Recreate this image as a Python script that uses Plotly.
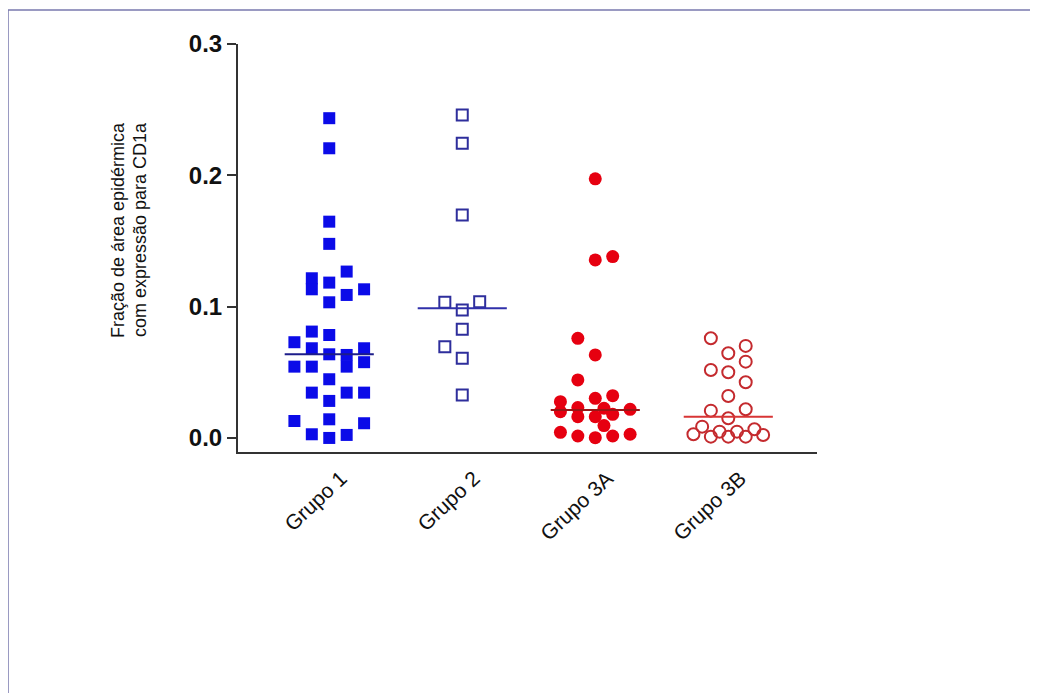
import plotly.graph_objects as go

# ---------------- data ----------------
groups = ["Grupo 1", "Grupo 2", "Grupo 3A", "Grupo 3B"]

g1_values = [0.2435, 0.2206, 0.1647, 0.1478,
             0.1216, 0.1132, 0.1183, 0.1267, 0.1089, 0.1132, 0.1033,
             0.0810, 0.0784, 0.0729, 0.0683, 0.0637, 0.0632, 0.0543, 0.0683, 0.0577,
             0.0543, 0.0543, 0.0447, 0.0345, 0.0282, 0.0345, 0.0345,
             0.0129, 0.0142, 0.0112, 0.0028, 0.0000, 0.0023]
g1_lanes = [0, 0, 0, 0,
            -1, -1, 0, 1, 1, 2, 0,
            -1, 0, -2, -1, 0, 1, 1, 2, 2,
            -2, -1, 0, -1, 0, 1, 2,
            -2, 0, 2, -1, 0, 1]

g2_values = [0.2460, 0.2244, 0.1698, 0.1033, 0.0975, 0.1038, 0.0828, 0.0695, 0.0607, 0.0327]
g2_lanes = [0, 0, 0, -1, 0, 1, 0, -1, 0, 0]

g3a_values = [0.1973, 0.1356, 0.1381, 0.0759, 0.0632, 0.0442, 0.0276, 0.0302, 0.0322,
              0.0200, 0.0231, 0.0162, 0.0162, 0.0226, 0.0180, 0.0218, 0.0094,
              0.0043, 0.0015, 0.0002, 0.0015, 0.0028]
g3a_lanes = [0, 0, 1, -1, 0, -1, -2, 0, 1,
             -2, -1, -1, 0, 0.5, 1, 2, 0.5,
             -2, -1, 0, 1, 2]

g3b_values = [0.0759, 0.0645, 0.0701, 0.0581, 0.0518, 0.0500, 0.0424, 0.0320,
              0.0208, 0.0218, 0.0150, 0.0086, 0.0028, 0.0010, 0.0048, 0.0010,
              0.0048, 0.0010, 0.0066, 0.0023]
g3b_lanes = [-1, 0, 1, 1, -1, 0, 1, 0,
             -1, 1, 0, -1.5, -2, -1, -0.5, 0,
             0.5, 1, 1.5, 2]

medians = [0.0637, 0.0988, 0.0213, 0.0162]

y_ticks = [0.0, 0.1, 0.2, 0.3]

# ---------------- figure ----------------
LANE = 0.131
HALF = 0.335

series = [
    (g1_values, g1_lanes, dict(symbol="square", size=12, color="#0b0be8",
                               line=dict(width=0))),
    (g2_values, g2_lanes, dict(symbol="square-open", size=11, color="#2e2e9c",
                               line=dict(width=2, color="#2e2e9c"))),
    (g3a_values, g3a_lanes, dict(symbol="circle", size=13, color="#e60010",
                                 line=dict(width=0))),
    (g3b_values, g3b_lanes, dict(symbol="circle-open", size=12, color="#c42a2e",
                                 line=dict(width=2, color="#c42a2e"))),
]
median_colors = ["#1d1d8a", "#3030aa", "#9a1515", "#d83535"]

fig = go.Figure()
for i, (vals, lanes, mk) in enumerate(series):
    fig.add_trace(go.Scatter(
        x=[i + l * LANE for l in lanes], y=vals, mode="markers",
        marker=mk, showlegend=False, hoverinfo="y"))
    fig.add_trace(go.Scatter(
        x=[i - HALF, i + HALF], y=[medians[i], medians[i]], mode="lines",
        line=dict(color=median_colors[i], width=2), showlegend=False,
        hoverinfo="skip"))

OFF = 8  # page body margin
L, R, T, B = 238 - OFF, 817 - OFF, 44 - OFF, 452 - OFF
W, H = 1030, 685

def px(xp):
    return (xp - OFF - L) / (R - L)

def py(yp):
    return (B - (yp - OFF)) / (B - T)

fig.update_layout(
    width=W, height=H,
    margin=dict(l=L, r=W - R, t=T, b=H - B, pad=0),
    paper_bgcolor="white", plot_bgcolor="white",
    font=dict(family="Liberation Sans, Arial, sans-serif", color="#111"),
    xaxis=dict(range=[-0.686, 3.667], tickvals=list(range(len(groups))),
               ticktext=groups, tickangle=-43, ticks="", showgrid=False,
               zeroline=False, showline=True, linecolor="#333", linewidth=2,
               ticklabelshift=12, ticklabelstandoff=4,
               tickfont=dict(size=21, color="#111")),
    yaxis=dict(range=[-0.0107, 0.3], tickvals=y_ticks, tickformat=".1f",
               ticks="outside", ticklen=9, tickwidth=2, tickcolor="#333",
               showgrid=False, zeroline=False, showline=True, linecolor="#333",
               linewidth=2, tickfont=dict(size=24, color="#111", weight="bold")),
    shapes=[dict(type="rect", xref="paper", yref="paper",
                 x0=px(8), x1=px(1031), y0=py(720), y1=py(10),
                 line=dict(color="#7a7aae", width=1.5), layer="below")],
    annotations=[
        dict(text="Fração de área epidérmica", textangle=-90, showarrow=False,
             xref="paper", yref="paper", x=px(118), y=py(230),
             xanchor="center", yanchor="middle", font=dict(size=18, color="#111")),
        dict(text="com expressão para CD1a", textangle=-90, showarrow=False,
             xref="paper", yref="paper", x=px(140), y=py(230),
             xanchor="center", yanchor="middle", font=dict(size=18, color="#111")),
    ],
)

fig.write_html("out.html")
